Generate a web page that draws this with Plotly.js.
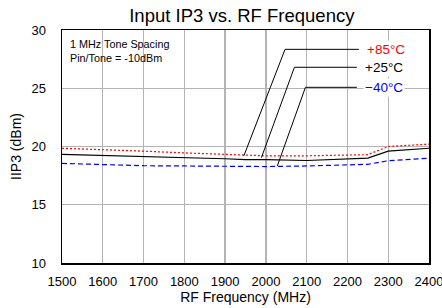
<!DOCTYPE html>
<html><head><meta charset="utf-8">
<script src="https://cdn.plot.ly/plotly-3.0.1.min.js"></script>
<style>html,body{margin:0;padding:0;background:#fff}#c{width:442px;height:308px}</style>
</head><body><div id="c"></div>
<script>
const freq85 = [1500,1600,1700,1800,1900,2000,2100,2200,2250,2300,2400];
const iip3_85 = [19.85,19.75,19.6,19.45,19.3,19.2,19.2,19.25,19.3,20.0,20.2];
const freq25 = [1500,1600,1700,1800,1900,1950,2000,2100,2200,2250,2300,2400];
const iip3_25 = [19.33,19.25,19.12,19.04,18.95,18.88,18.88,18.8,18.95,19.0,19.6,19.85];
const freqM40 = [1500,1600,1700,1800,1900,1950,2000,2100,2200,2250,2300,2400];
const iip3_M40 = [18.55,18.45,18.35,18.33,18.3,18.24,18.28,18.33,18.4,18.47,18.78,19.0];
const labels = ['+85°C','+25°C','\u221240°C'];
const labelColors = ['#ff0000','#000000','#0000ff'];
// leader lines: [x tip, y tip, x knee, y knee, x end, y end]
const leaders = [
  [1946,19.2,2047,28.34,2228,28.34],
  [1989,19.04,2070,26.8,2223,26.8],
  [2028,18.33,2097,25.08,2223,25.08]
];
const xTicks = [1500,1600,1700,1800,1900,2000,2100,2200,2300,2400];
const yTicks = [10,15,20,25,30];

const traces = [
  {x:freq85,y:iip3_85,mode:'lines',line:{color:'#ff0000',width:1.2,dash:'2px,2px'},hoverinfo:'skip'},
  {x:freq25,y:iip3_25,mode:'lines',line:{color:'#000000',width:1.2},hoverinfo:'skip'},
  {x:freqM40,y:iip3_M40,mode:'lines',line:{color:'#0000ff',width:1.2,dash:'5px,3px'},hoverinfo:'skip'}
];
leaders.forEach(l=>{
  traces.push({x:[l[0],l[2],l[4]],y:[l[1],l[3],l[5]],mode:'lines',line:{color:'#000',width:1},hoverinfo:'skip'});
});
const annotations = labels.map((t,i)=>({
  x:leaders[i][4],y:leaders[i][5],xref:'x',yref:'y',text:t,showarrow:false,
  xanchor:'left',xshift:6,font:{family:'Liberation Sans, Arial',size:13.5,color:labelColors[i]},
  bgcolor:'#ffffff',borderpad:1
}));
annotations.push({
  xref:'paper',yref:'paper',x:0.015,y:0.975,xanchor:'left',yanchor:'top',align:'left',showarrow:false,
  text:'1 MHz Tone Spacing<br>Pin/Tone = -10dBm',font:{family:'Liberation Sans, Arial',size:10.8,color:'#000'}
});
const layout = {
  width:442,height:308,showlegend:false,
  margin:{l:62,r:13,t:30,b:45},
  paper_bgcolor:'#fff',plot_bgcolor:'#fff',
  font:{family:'Liberation Sans, Arial',size:13,color:'#000'},
  title:{text:'Input IP3 vs. RF Frequency',font:{size:18.5,color:'#000'},x:0.49,xanchor:'center',xref:'paper',y:0.95,yref:'container',yanchor:'middle'},
  xaxis:{range:[1500,2400],tickvals:xTicks,ticktext:xTicks.map(String),showgrid:true,gridcolor:'#b4b4b4',gridwidth:1.3,
    showline:true,linecolor:'#000',linewidth:1.5,mirror:true,ticks:'',zeroline:false,ticklabeloverflow:'allow',ticklabelstandoff:6,
    title:{text:'RF Frequency (MHz)',font:{size:14},standoff:0},tickfont:{size:13}},
  yaxis:{range:[10,30],tickvals:yTicks,ticktext:yTicks.map(String),showgrid:true,gridcolor:'#b4b4b4',gridwidth:1.3,
    showline:true,linecolor:'#000',linewidth:1.5,mirror:true,ticks:'',zeroline:false,ticklabelstandoff:12,
    title:{text:'IIP3 (dBm)',font:{size:14},standoff:6},tickfont:{size:13}},
  annotations:annotations
};
Plotly.newPlot('c',traces,layout,{staticPlot:true,displayModeBar:false});
</script></body></html>
